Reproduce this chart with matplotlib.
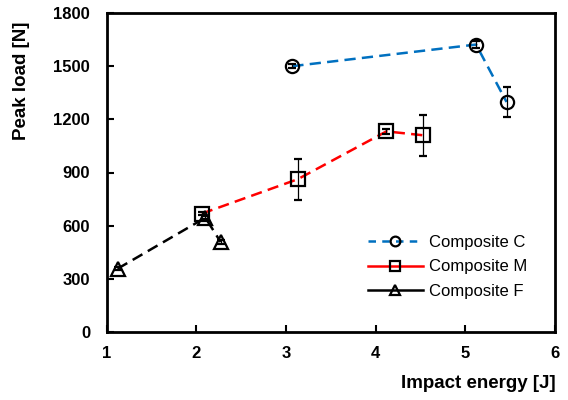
import matplotlib.pyplot as plt
from matplotlib.lines import Line2D

plt.rcParams['font.family'] = ['Liberation Sans', 'DejaVu Sans']

# Composite C
c_energy = [3.07, 5.12, 5.46]
c_load = [1500, 1622, 1298]
c_err = [12, 22, 85]

# Composite M
m_energy = [2.06, 3.13, 4.12, 4.53]
m_load = [668, 862, 1132, 1110]
m_err = [10, 115, 12, 115]

# Composite F
f_energy = [1.12, 2.10, 2.27]
f_load = [357, 645, 508]
f_err = [8, 10, 10]

labels = ["Composite C", "Composite M", "Composite F"]
line_colors = ["#0070C0", "#FF0000", "#000000"]
markers = ["o", "s", "^"]

fig = plt.figure(figsize=(5.68, 4.0), dpi=100)
ax = fig.add_axes([0.188, 0.17, 0.789, 0.7975])

series = [(c_energy, c_load, c_err), (m_energy, m_load, m_err), (f_energy, f_load, f_err)]
for (x, y, e), col, mk in zip(series, line_colors, markers):
    ax.plot(x, y, color=col, lw=1.8, dashes=(4.5, 2.5), zorder=2)
    ax.errorbar(x, y, yerr=e, fmt=mk, ms=9.5, mfc='none', mec='black', mew=1.6,
                ecolor='black', elinewidth=0.9, capsize=3, capthick=0.9, zorder=3)

ax.set_xlim(1, 6)
ax.set_ylim(0, 1800)
ax.set_xticks(range(1, 7))
ax.set_yticks(range(0, 1801, 300))
ax.tick_params(direction='in', length=5, width=1.5, labelsize=12, top=False, right=False)
ax.tick_params(axis='y', pad=12)
ax.tick_params(axis='x', pad=10)
for lab in ax.get_xticklabels() + ax.get_yticklabels():
    lab.set_fontweight('bold')
for sp in ax.spines.values():
    sp.set_linewidth(2)

ax.set_xlabel("Impact energy [J]", fontsize=13.5, fontweight='bold')
ax.xaxis.set_label_coords(0.828, -0.135)
ax.set_ylabel("Peak load [N]", fontsize=13.5, fontweight='bold')
ax.yaxis.set_label_coords(-0.172, 0.787)

handles = [
    Line2D([], [], color=line_colors[0], lw=1.8, dashes=(3, 2.5), marker='o', ms=7,
           mfc='none', mec='black', mew=1.6),
    Line2D([], [], color=line_colors[1], lw=1.8, marker='s', ms=7, mfc='none', mec='black', mew=1.6),
    Line2D([], [], color=line_colors[2], lw=1.8, marker='^', ms=7, mfc='none', mec='black', mew=1.6),
]
ax.legend(handles, labels, loc='upper left', bbox_to_anchor=(0.549, 0.352), frameon=False,
          fontsize=12, handlelength=3.3, handletextpad=0.4, labelspacing=0.58)

fig.savefig("out.png", dpi=100)
